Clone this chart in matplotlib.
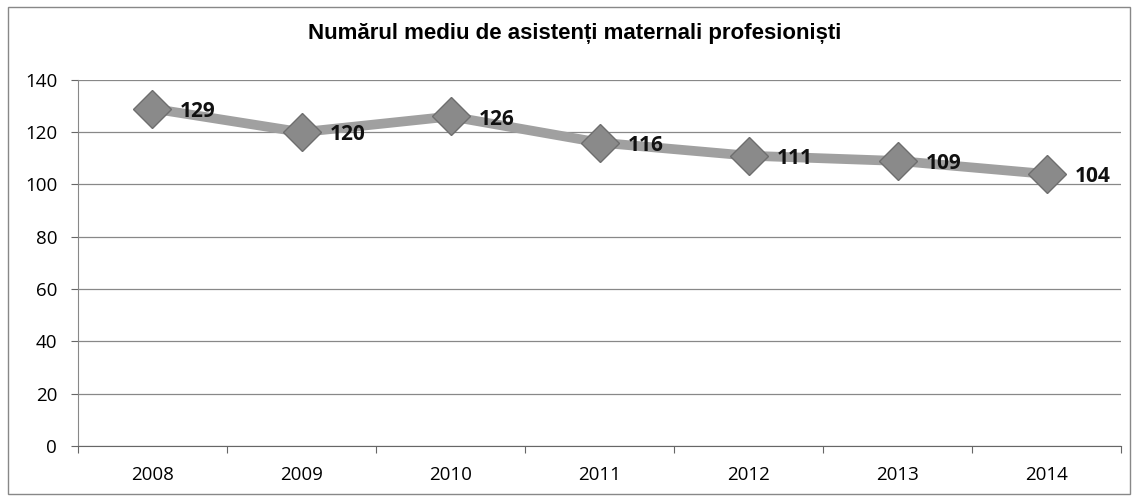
import matplotlib.pyplot as plt
from matplotlib.patches import Rectangle

years = ['2008', '2009', '2010', '2011', '2012', '2013', '2014']
values = [129, 120, 126, 116, 111, 109, 104]
y_ticks = [0, 20, 40, 60, 80, 100, 120, 140]

plt.rcParams['font.family'] = ['Open Sans', 'DejaVu Sans']

fig = plt.figure(figsize=(11.38, 4.99), dpi=100)
fig.patches.append(Rectangle((0.007, 0.01), 0.986, 0.975, transform=fig.transFigure,
                             fill=False, edgecolor='#888888', linewidth=1))
ax = fig.add_axes([0.0685, 0.106, 0.917, 0.734])

x = list(range(len(years)))
ax.plot(x, values, color='#a0a0a0', linewidth=7, solid_capstyle='butt', zorder=3)
ax.plot(x, values, linestyle='none', marker='D', markersize=19,
        markerfacecolor='#8a8a8a', markeredgecolor='#6e6e6e', markeredgewidth=1, zorder=4)
for i, v in enumerate(values):
    ax.annotate(str(v), (i, v), xytext=(20, -2), textcoords='offset points',
                ha='left', va='center', fontsize=15, fontweight='bold',
                color='#111111', zorder=5)

ax.set_xlim(-0.5, len(years) - 0.5)
ax.set_ylim(0, 140)
ax.set_yticks(y_ticks)
ax.set_xticks([i - 0.5 for i in range(len(years) + 1)], minor=False)
ax.set_xticklabels([])
ax.set_xticks(x, minor=True)
ax.set_xticklabels(years, minor=True)
ax.tick_params(axis='x', which='minor', length=0, pad=14, labelsize=13.5)
ax.tick_params(axis='x', which='major', length=5, color='#666666')
ax.tick_params(axis='y', length=5, color='#666666', labelsize=13.5, pad=10)
ax.grid(axis='y', color='#888888', linewidth=0.9)
ax.set_axisbelow(True)
for s in ['top', 'right']:
    ax.spines[s].set_visible(False)
ax.spines['left'].set_color('#888888')
ax.spines['bottom'].set_color('#666666')

fig.text(0.505, 0.932, 'Numărul mediu de asistenți maternali profesioniști',
         ha='center', va='center', fontsize=16, fontweight='bold',
         family=['Liberation Sans', 'DejaVu Sans'])

fig.savefig('out.png', dpi=100)
